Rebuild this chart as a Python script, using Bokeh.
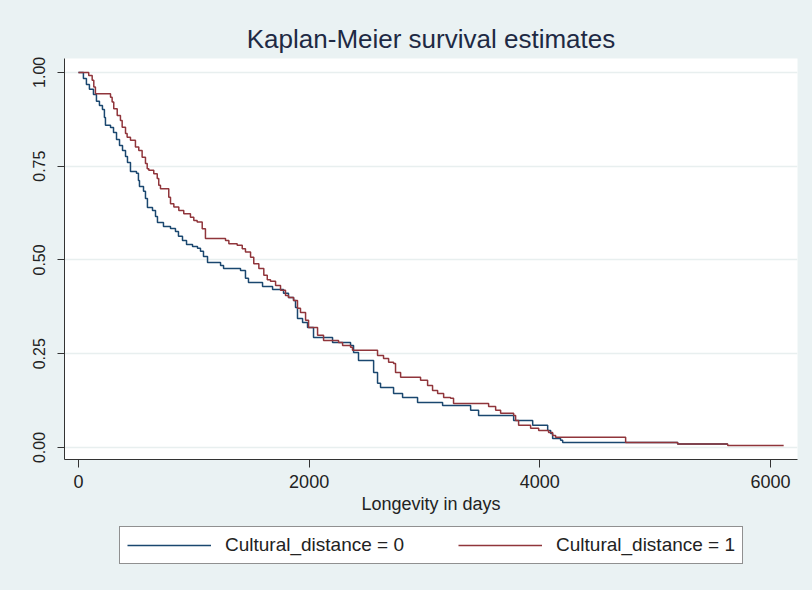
from bokeh.plotting import figure
from bokeh.layouts import column
from bokeh.models import (FixedTicker, NumeralTickFormatter, Legend, LegendItem,
                          Range1d)
from bokeh.embed import file_html
from bokeh.resources import INLINE

# ---- data ----
title_text = "Kaplan-Meier survival estimates"
x_label = "Longevity in days"
series_names = ["Cultural_distance = 0", "Cultural_distance = 1"]
series_colors = ["#1a476f", "#90353b"]
x_ticks = [0, 2000, 4000, 6000]
y_ticks = [0.0, 0.25, 0.50, 0.75, 1.00]

t0 = [0, 43, 69, 95, 130, 156, 182, 208, 225, 234,
      278, 304, 330, 356, 382, 408, 425, 451, 503, 520,
      529, 564, 581, 598, 642, 668, 685, 737, 798, 841,
      867, 902, 937, 989, 1032, 1058, 1084, 1119, 1232, 1258,
      1405, 1448, 1474, 1596, 1683, 1778, 1821, 1865, 1882, 1899,
      1943, 1986, 2038, 2203, 2359, 2385, 2428, 2559, 2593, 2619,
      2732, 2810, 2940, 3157, 3400, 3469, 3773, 3938, 4068, 4094,
      4111, 4180, 4198, 5195, 5629]
s0 = [1.0, .984, .968, .955, .941, .923, .912, .901, .880, .859,
      .853, .840, .821, .805, .792, .776, .760, .736, .731, .712,
      .696, .683, .664, .640, .632, .616, .600, .589, .584, .576,
      .563, .552, .541, .536, .531, .523, .509, .493, .485, .477,
      .472, .451, .440, .429, .421, .411, .400, .392, .373, .344,
      .333, .320, .293, .280, .272, .253, .232, .200, .171, .160,
      .144, .133, .120, .112, .099, .085, .072, .059, .045, .037,
      .024, .019, .013, .009, .009]

t1 = [0, 89, 119, 133, 147, 278, 292, 306, 336, 364,
      379, 408, 422, 451, 494, 523, 552, 581, 596, 610,
      653, 683, 696, 711, 783, 798, 827, 870, 913, 971,
      1000, 1029, 1073, 1101, 1275, 1304, 1376, 1420, 1448, 1492,
      1520, 1564, 1607, 1637, 1665, 1709, 1752, 1795, 1821, 1865,
      1899, 1925, 1969, 1995, 2073, 2125, 2255, 2290, 2359, 2376,
      2593, 2645, 2689, 2732, 2749, 2793, 2966, 3027, 3070, 3114,
      3166, 3226, 3252, 3556, 3617, 3660, 3773, 3790, 3816, 3920,
      3990, 4076, 4111, 4137, 4744, 5195, 5629, 6114]
s1 = [1.0, .992, .979, .961, .943, .934, .921, .903, .885, .872,
      .854, .837, .827, .819, .801, .792, .774, .757, .743, .739,
      .730, .717, .699, .690, .667, .650, .641, .632, .623, .614,
      .605, .601, .583, .557, .552, .543, .539, .530, .521, .507,
      .490, .477, .459, .447, .443, .432, .419, .405, .400, .392,
      .371, .360, .339, .320, .299, .285, .280, .272, .267, .259,
      .245, .237, .227, .224, .200, .187, .179, .165, .152, .144,
      .133, .131, .117, .109, .099, .091, .085, .072, .059, .051,
      .045, .040, .032, .027, .013, .009, .005, .005]

BG = "#eaf2f3"
FONT = "Liberation Sans"
TXT = "#222222"

# ---------------- main plot ----------------
p = figure(width=812, height=519, output_backend="svg", toolbar_location=None,
           x_range=Range1d(-121, 6234), y_range=Range1d(-0.032, 1.037),
           min_border_left=64, min_border_right=15, min_border_top=58,
           min_border_bottom=60)
p.background_fill_color = "white"
p.border_fill_color = BG
p.outline_line_color = None

p.title.text = title_text
p.title.text_font = FONT
p.title.text_font_size = "26px"
p.title.text_font_style = "normal"
p.title.text_color = "#1e2a44"
p.title.align = "center"
p.title.standoff = 10

p.step(t0, s0, mode="after", line_color=series_colors[0], line_width=1.5)
p.step(t1, s1, mode="after", line_color=series_colors[1], line_width=1.5)

xa = p.xaxis[0]
xa.ticker = FixedTicker(ticks=x_ticks)
xa.axis_label = x_label
xa.axis_label_text_font = FONT
xa.axis_label_text_font_size = "18px"
xa.axis_label_text_font_style = "normal"
xa.axis_label_text_color = TXT
xa.axis_label_standoff = 3
xa.major_label_text_font = FONT
xa.major_label_text_font_size = "18px"
xa.major_label_text_color = TXT
xa.major_label_standoff = 7
xa.major_tick_out = 8
xa.major_tick_in = 0
xa.minor_tick_out = 0
xa.minor_tick_in = 0
xa.axis_line_color = "#333333"
xa.major_tick_line_color = "#333333"

ya = p.yaxis[0]
ya.ticker = FixedTicker(ticks=y_ticks)
ya.formatter = NumeralTickFormatter(format="0.00")
ya.major_label_orientation = "vertical"
ya.major_label_text_font = FONT
ya.major_label_text_font_size = "16px"
ya.major_label_text_color = TXT
ya.major_label_standoff = 12
ya.major_tick_out = 7
ya.major_tick_in = 0
ya.minor_tick_out = 0
ya.minor_tick_in = 0
ya.axis_line_color = "#333333"
ya.major_tick_line_color = "#333333"

p.xgrid.visible = False
p.ygrid.ticker = FixedTicker(ticks=y_ticks)
p.ygrid.grid_line_color = "#e8efef"
p.ygrid.grid_line_width = 1.5

# ---------------- legend strip ----------------
p2 = figure(width=812, height=71, output_backend="svg", toolbar_location=None,
            x_range=Range1d(0, 733), y_range=Range1d(0, 71),
            min_border_left=64, min_border_right=15, min_border_top=0,
            min_border_bottom=0)
p2.axis.visible = False
p2.grid.visible = False
p2.background_fill_color = BG
p2.border_fill_color = BG
p2.outline_line_color = None
# legend-key renderers: their points lie outside the strip's visible range
k0 = p2.line(x=[-20, -10], y=[-20, -20], line_color=series_colors[0], line_width=1.5)
k1 = p2.line(x=[-20, -10], y=[-20, -20], line_color=series_colors[1], line_width=1.5)

legend = Legend(items=[LegendItem(label=series_names[0], renderers=[k0]),
                       LegendItem(label=series_names[1], renderers=[k1])],
                orientation="horizontal", location=(55, 26))
legend.label_text_font = FONT
legend.label_text_font_size = "19px"
legend.label_text_color = TXT
legend.glyph_width = 84
legend.label_standoff = 14
legend.spacing = 54
legend.padding = 7
legend.margin = 0
legend.border_line_color = "#222222"
legend.border_line_width = 1
legend.background_fill_color = "white"
legend.background_fill_alpha = 1.0
p2.add_layout(legend, "center")

layout = column(p, p2, spacing=0)

html = file_html(layout, INLINE)
html = html.replace("</head>",
                    "<style>html,body{margin:0;padding:0;overflow:hidden;background:%s;}</style></head>" % BG, 1)
open("out.html", "w").write(html)
